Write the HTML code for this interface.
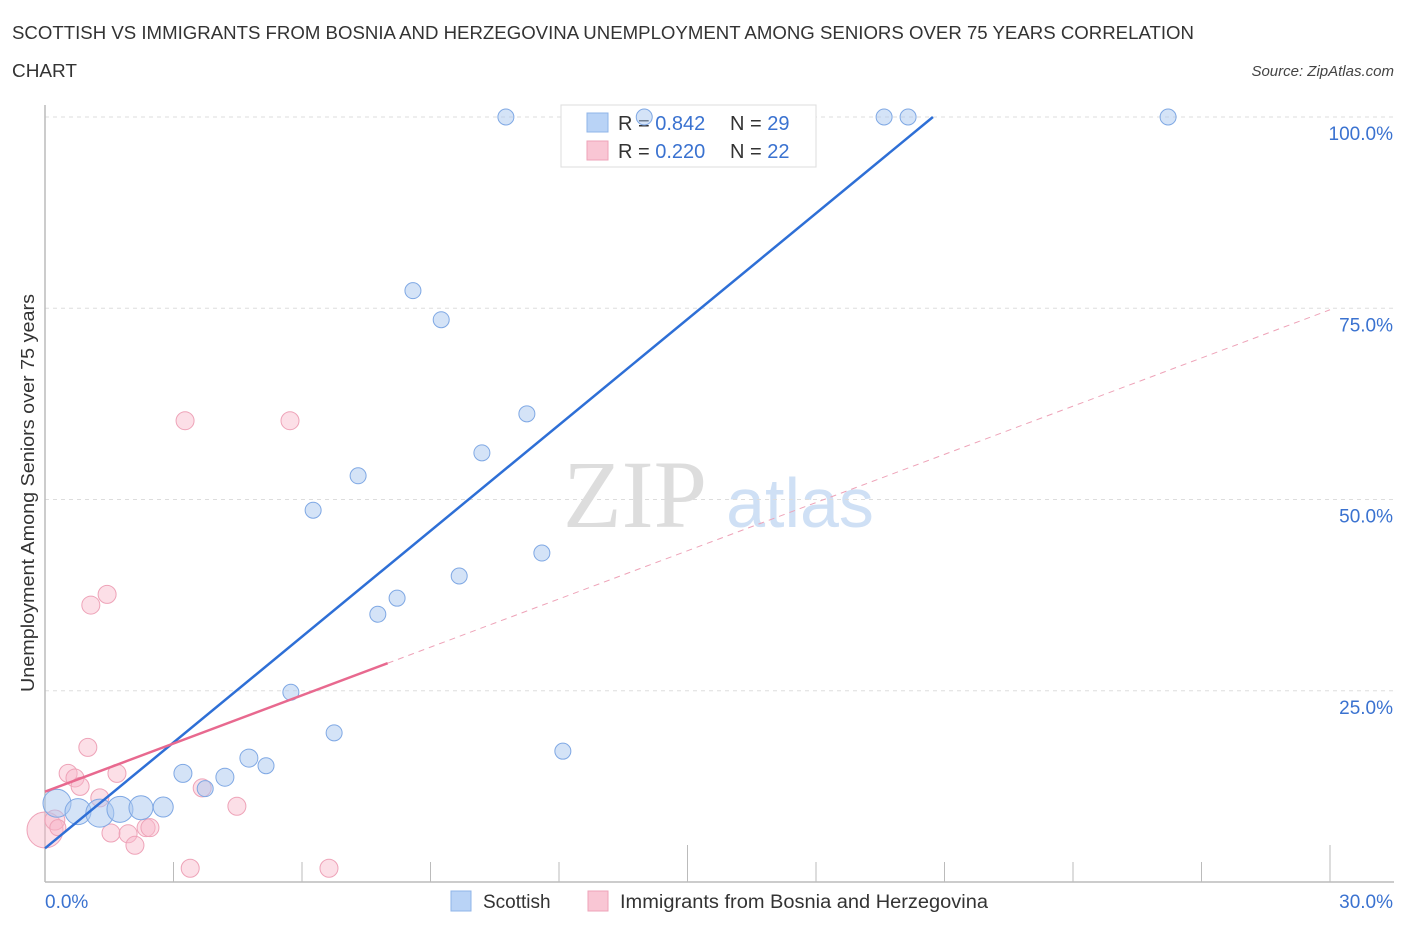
<!DOCTYPE html>
<html><head><meta charset="utf-8"><style>
body{margin:0;background:#fff;font-family:"Liberation Sans",sans-serif}
</style></head><body>
<svg width="1406" height="930" xmlns="http://www.w3.org/2000/svg" font-family="Liberation Sans, sans-serif">
<text x="12" y="39" font-size="18" fill="#333" textLength="1182" lengthAdjust="spacingAndGlyphs">SCOTTISH VS IMMIGRANTS FROM BOSNIA AND HERZEGOVINA UNEMPLOYMENT AMONG SENIORS OVER 75 YEARS CORRELATION</text>
<text x="12" y="77" font-size="18" fill="#333" textLength="65" lengthAdjust="spacingAndGlyphs">CHART</text>
<text x="1394" y="76" font-size="15" fill="#444" font-style="italic" text-anchor="end">Source: ZipAtlas.com</text>
<text x="635" y="527" font-size="96" fill="#ddd" font-family="Liberation Serif, serif" text-anchor="middle">ZIP</text>
<text x="800" y="527" font-size="70" fill="#cfe0f5" text-anchor="middle">atlas</text>
<g id="grid"></g>
<g id="axes"></g>
<text transform="translate(34,493) rotate(-90)" font-size="18" fill="#333" text-anchor="middle" textLength="398" lengthAdjust="spacingAndGlyphs">Unemployment Among Seniors over 75 years</text>
<g>
<rect x="561" y="105" width="255" height="62" fill="#fff" stroke="#ddd"/>
<rect x="587" y="113" width="21" height="19" fill="#b9d3f6" stroke="#8fb4e8"/>
<rect x="587" y="141" width="21" height="19" fill="#f9c6d4" stroke="#eea3b8"/>
<text x="618" y="130" font-size="20" fill="#333">R = <tspan fill="#3a72d0">0.842</tspan></text>
<text x="730" y="130" font-size="20" fill="#333">N = <tspan fill="#3a72d0">29</tspan></text>
<text x="618" y="158" font-size="20" fill="#333">R = <tspan fill="#3a72d0">0.220</tspan></text>
<text x="730" y="158" font-size="20" fill="#333">N = <tspan fill="#3a72d0">22</tspan></text>
</g>
<g id="marks"></g>
<g>
<rect x="451" y="891" width="20" height="20" fill="#b9d3f6" stroke="#8fb4e8"/>
<text x="483" y="908" font-size="19" fill="#333">Scottish</text>
<rect x="588" y="891" width="20" height="20" fill="#f9c6d4" stroke="#eea3b8"/>
<text x="620" y="908" font-size="19" fill="#333" textLength="368" lengthAdjust="spacingAndGlyphs">Immigrants from Bosnia and Herzegovina</text>
</g>
</svg>
<script>
const blueX=[0.28,0.77,1.28,1.75,2.24,2.76,3.22,3.74,4.2,4.76,5.16,5.74,6.26,6.75,7.31,7.77,8.22,8.59,9.25,9.67,10.2,10.76,11.25,11.6,12.09,13.99,19.59,20.15,26.22];
const blueY=[10.3,9.2,9.0,9.5,9.7,9.8,14.2,12.2,13.7,16.2,15.2,24.8,48.6,19.5,53.1,35.0,37.1,77.3,73.5,40.0,56.1,100,61.2,43.0,17.1,100,100,100,100];
const blueR=[14,13,14,13,12,10,9,8,9,9,8,8,8,8,8,8,8,8,8,8,8,8,8,8,8,8,8,8,8];
const pinkX=[0,0.23,0.3,0.54,0.7,0.82,1.0,1.07,1.28,1.45,1.54,1.68,1.94,2.1,2.36,2.45,3.27,3.39,3.67,4.48,5.72,6.63];
const pinkY=[6.8,8.1,7.1,14.2,13.6,12.5,17.6,36.2,11.0,37.6,6.4,14.2,6.3,4.8,7.1,7.1,60.3,1.8,12.3,9.9,60.3,1.8];
const pinkR=[18,10,8,9,9,9,9,9,9,9,9,9,9,9,9,9,9,9,9,9,9,9];
const yTicks=[25,50,75,100];
const yTickLabels=["25.0%","50.0%","75.0%","100.0%"];
const blueLine=[4.4,20.73,100];
const pinkLine=[11.8,2.1,8.0,30];
const NS='http://www.w3.org/2000/svg';
const X=v=>45+v*(1285/30), Y=v=>882-v*7.65;
function mk(t,a,p){const e=document.createElementNS(NS,t);for(const k in a)e.setAttribute(k,a[k]);p.appendChild(e);return e;}
const grid=document.getElementById('grid'),axes=document.getElementById('axes'),marks=document.getElementById('marks');
yTicks.forEach((t,i)=>{
 const l=mk('line',{x1:45,x2:1394,y1:Y(t),y2:Y(t),stroke:'#ddd','stroke-dasharray':'4 4'},grid);
 
 
 const tx=mk('text',{x:1393,y:Y(t)+23,'font-size':19,fill:'#3a72d0','text-anchor':'end'},grid);
 tx.textContent=yTickLabels[i];
 
 
});
let a=mk('line',{x1:45,x2:45,y1:105,y2:882,stroke:'#bbb','stroke-width':1.5},axes);


a=mk('line',{x1:45,x2:1394,y1:882,y2:882,stroke:'#bbb','stroke-width':1.5},axes);


for(let i=1;i<=10;i++){const v=i*3;const long=(i==5||i==10);
 const t=mk('line',{x1:X(v),x2:X(v),y1:long?845:862,y2:882,stroke:'#bbb'},axes);
 
 }
[[0,'0.0%','start',45],[30,'30.0%','end',1393]].forEach(d=>{
 const t=mk('text',{x:d[3],y:908,'font-size':19,fill:'#3a72d0','text-anchor':d[2]},axes);t.textContent=d[1];
 
 });
pinkX.forEach((x,i)=>{const c=mk('circle',{cx:X(x),cy:Y(pinkY[i]),r:pinkR[i],fill:'rgba(248,184,202,0.45)',stroke:'#eea3b8','stroke-width':1},marks);
 
 });
blueX.forEach((x,i)=>{const c=mk('circle',{cx:X(x),cy:Y(blueY[i]),r:blueR[i],fill:'rgba(170,200,240,0.5)',stroke:'#7fa8e4','stroke-width':1},marks);
 
 });
let l=mk('line',{x1:X(0),y1:Y(blueLine[0]),x2:X(blueLine[1]),y2:Y(blueLine[2]),stroke:'#2e6fd6','stroke-width':2.5},marks);


const py=x=>pinkLine[0]+pinkLine[1]*x;
l=mk('line',{x1:X(0),y1:Y(py(0)),x2:X(pinkLine[2]),y2:Y(py(pinkLine[2])),stroke:'#e8698f','stroke-width':2.5},marks);


l=mk('line',{x1:X(pinkLine[2]),y1:Y(py(pinkLine[2])),x2:X(pinkLine[3]),y2:Y(py(pinkLine[3])),stroke:'#eea3b8','stroke-width':1,'stroke-dasharray':'6 5'},marks);


</script>
</body></html>
